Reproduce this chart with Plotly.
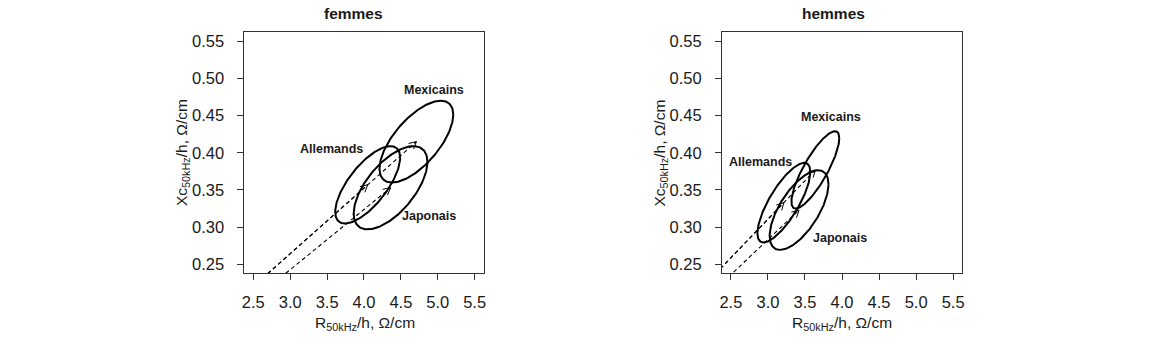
import numpy as np
import plotly.graph_objects as go

# ---------------- data ----------------
groups = ["Allemands", "Mexicains", "Japonais"]

# femmes (women): mean R/h, mean Xc/h, half-extent of ellipse in R and Xc, correlation
f_R_mean = [4.05, 4.71, 4.36]
f_Xc_mean = [0.357, 0.415, 0.353]
f_R_half = [0.44, 0.50, 0.50]
f_Xc_half = [0.052, 0.055, 0.056]
f_corr = [0.70, 0.66, 0.62]
f_label_x = [3.56, 4.95, 4.88]
f_label_y = [0.405, 0.484, 0.3155]

# hemmes (men)
h_R_mean = [3.215, 3.64, 3.42]
h_Xc_mean = [0.333, 0.377, 0.323]
h_R_half = [0.357, 0.323, 0.397]
h_Xc_half = [0.0535, 0.052, 0.0535]
h_corr = [0.77, 0.82, 0.65]
h_label_x = [2.90, 3.855, 3.967]
h_label_y = [0.387, 0.4475, 0.2848]

panel_titles = ["femmes", "hemmes"]
x_ticks = [2.5, 3.0, 3.5, 4.0, 4.5, 5.0, 5.5]
y_ticks = [0.25, 0.30, 0.35, 0.40, 0.45, 0.50, 0.55]
x_range = [2.38, 5.62]
y_range = [0.238, 0.562]

W, H = 1170, 350
FONT = "Liberation Sans, Arial, sans-serif"
INK = "#1a1a1a"

x_doms = [[242.7 / W, 483.0 / W], [722.7 / W, 964.0 / W]]
y_dom = [1 - 273.3 / H, 1 - 32.3 / H]

fig = go.Figure()
t = np.linspace(0, 2 * np.pi, 241)

panels = [
    (f_R_mean, f_Xc_mean, f_R_half, f_Xc_half, f_corr, f_label_x, f_label_y, "x", "y", x_doms[0]),
    (h_R_mean, h_Xc_mean, h_R_half, h_Xc_half, h_corr, h_label_x, h_label_y, "x2", "y2", x_doms[1]),
]

# pixel scale (for drawing arrow heads with a fixed on-screen size)
ppy = (y_dom[1] - y_dom[0]) * H / (y_range[1] - y_range[0])
head_len, head_ang = 8.0, np.radians(28)

for (rm, xm, rh, xh, cr, lx, ly, xa, ya, xd) in panels:
    ppx = (xd[1] - xd[0]) * W / (x_range[1] - x_range[0])
    for i, g in enumerate(groups):
        d = np.arccos(cr[i])
        ex = rm[i] + rh[i] * np.cos(t)
        ey = xm[i] + xh[i] * np.cos(t - d)
        fig.add_trace(go.Scatter(x=ex, y=ey, mode="lines", xaxis=xa, yaxis=ya,
                                 line=dict(color="black", width=2),
                                 hoverinfo="skip", showlegend=False))
        # dashed vector from origin to mean
        fig.add_trace(go.Scatter(x=[0, rm[i]], y=[0, xm[i]], mode="lines",
                                 xaxis=xa, yaxis=ya,
                                 line=dict(color="black", width=1.1, dash="4px,3px"),
                                 hoverinfo="skip", showlegend=False))
        # open arrow head at the mean
        vx, vy = rm[i] * ppx, xm[i] * ppy
        n = np.hypot(vx, vy)
        ux, uy = vx / n, vy / n
        hx, hy = [], []
        for s in (1, -1):
            ca, sa = np.cos(s * head_ang), np.sin(s * head_ang)
            bx = -(ux * ca - uy * sa) * head_len
            by = -(ux * sa + uy * ca) * head_len
            hx.append(rm[i] + bx / ppx)
            hy.append(xm[i] + by / ppy)
        fig.add_trace(go.Scatter(x=[hx[0], rm[i], hx[1]], y=[hy[0], xm[i], hy[1]],
                                 mode="lines", xaxis=xa, yaxis=ya,
                                 line=dict(color="black", width=1),
                                 hoverinfo="skip", showlegend=False))
        fig.add_annotation(x=lx[i], y=ly[i], xref=xa, yref=ya, text="<b>" + g + "</b>",
                           showarrow=False, xanchor="center", yanchor="middle",
                           font=dict(family=FONT, size=12.5, color=INK))

axis_common = dict(showgrid=False, zeroline=False, showline=True, mirror=True,
                   linecolor="#333333", linewidth=1, ticks="outside", ticklen=6,
                   tickcolor="#333333", tickfont=dict(family=FONT, size=16.5, color=INK))

fig.update_layout(
    width=W, height=H, margin=dict(l=0, r=0, t=0, b=0),
    paper_bgcolor="white", plot_bgcolor="white", showlegend=False,
    xaxis=dict(domain=x_doms[0], range=x_range, tickvals=x_ticks,
               ticktext=[f"{v:.1f}" for v in x_ticks], anchor="y", ticklabelstandoff=8, **axis_common),
    yaxis=dict(domain=y_dom, range=y_range, tickvals=y_ticks,
               ticktext=[f"{v:.2f}" for v in y_ticks], anchor="x", ticklabelstandoff=10, **axis_common),
    xaxis2=dict(domain=x_doms[1], range=x_range, tickvals=x_ticks,
                ticktext=[f"{v:.1f}" for v in x_ticks], anchor="y2", ticklabelstandoff=8, **axis_common),
    yaxis2=dict(domain=y_dom, range=y_range, tickvals=y_ticks,
                ticktext=[f"{v:.2f}" for v in y_ticks], anchor="x2", ticklabelstandoff=10, **axis_common),
)

title_px = [352.5, 835.0]
xtitle_px = [363.7, 843.5]
ytitle_px = [180.0, 660.0]
for k in range(2):
    fig.add_annotation(x=title_px[k] / W, y=1 - 13.5 / H, xref="paper", yref="paper",
                       xanchor="center", yanchor="middle",
                       text="<b>" + panel_titles[k] + "</b>", showarrow=False,
                       font=dict(family=FONT, size=15.5, color=INK))
    fig.add_annotation(x=xtitle_px[k] / W, y=1 - 323.5 / H, xref="paper", yref="paper",
                       xanchor="center", yanchor="middle",
                       text="R<sub>50kHz</sub>/h, Ω/cm", showarrow=False,
                       font=dict(family=FONT, size=15.5, color=INK))
    fig.add_annotation(x=ytitle_px[k] / W, y=1 - 153.0 / H, xref="paper", yref="paper",
                       xanchor="center", yanchor="middle",
                       text="Xc<sub>50kHz</sub>/h, Ω/cm", showarrow=False, textangle=-90,
                       font=dict(family=FONT, size=15.5, color=INK))

fig.write_html("out.html")
